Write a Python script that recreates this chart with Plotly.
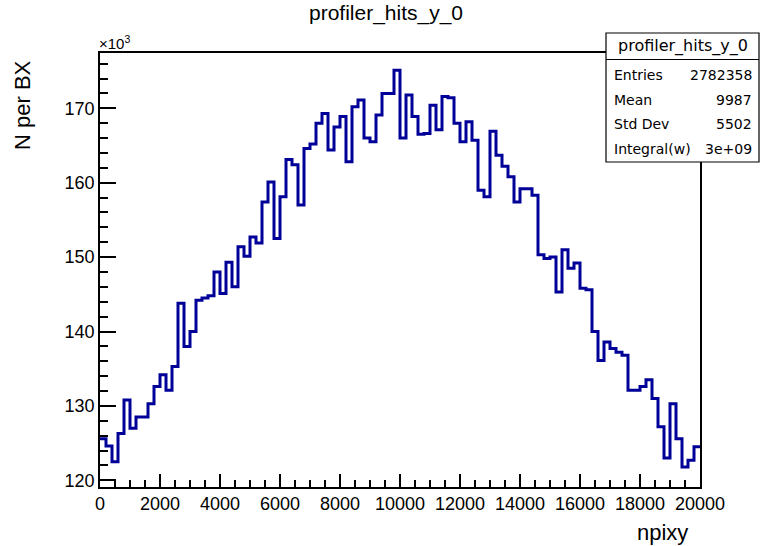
import plotly.graph_objects as go

# Histogram definition: 100 bins over npixy in [0, 20000]
n_bins = 100
x_min, x_max = 0, 20000

# Bin contents, N per BX in units of 10^3
counts_k = [
    125.6, 124.6, 122.5, 126.3, 130.8, 127.0, 128.5, 128.5, 130.3, 132.6,
    134.2, 132.1, 135.3, 143.8, 138.0, 140.0, 144.2, 144.5, 144.8, 148.0,
    145.1, 149.3, 146.0, 151.4, 150.1, 152.7, 151.9, 157.4, 160.1, 152.5,
    158.1, 163.1, 162.4, 157.0, 164.6, 165.2, 168.0, 169.3, 164.4, 167.5,
    168.9, 162.8, 170.2, 171.1, 166.0, 165.5, 169.1, 172.0, 172.0, 175.1,
    166.0, 171.8, 168.9, 166.5, 166.6, 170.4, 167.1, 171.6, 171.4, 168.0,
    165.5, 168.2, 165.7, 159.0, 158.1, 166.9, 163.7, 162.2, 160.8, 157.4,
    159.2, 159.2, 158.3, 150.3, 149.8, 150.0, 145.3, 151.0, 148.5, 149.2,
    145.8, 145.6, 140.0, 136.1, 138.6, 137.7, 137.2, 136.8, 132.1, 132.1,
    132.6, 133.5, 131.0, 127.2, 123.0, 130.3, 125.6, 121.8, 122.7, 124.5,
]

hist_name = "profiler_hits_y_0"
stats_labels = ["Entries", "Mean", "Std Dev", "Integral(w)"]
stats_values = ["2782358", "9987", "5502", "3e+09"]

# Step outline: left edge of each bin, plus the closing right edge
bin_w = (x_max - x_min) / n_bins
edges = [x_min + i * bin_w for i in range(n_bins + 1)]
step_x = edges
step_y = counts_k + [counts_k[-1]]

W, H = 761, 546
L, R, T, B = 100, 61, 53, 59
PW, PH = W - L - R, H - T - B


def px(xp):
    return (xp - L) / PW


def py(yp):
    return (H - B - yp) / PH


FONT = "Liberation Sans, Arial, Helvetica, sans-serif"
STATF = "DejaVu Sans, Liberation Sans, sans-serif"

fig = go.Figure()
fig.add_trace(go.Scatter(
    x=step_x, y=step_y, mode="lines",
    line=dict(color="#000099", width=3, shape="hv"),
    hoverinfo="skip", showlegend=False,
))

fig.update_layout(
    width=W, height=H,
    margin=dict(l=L, r=R, t=T, b=B),
    paper_bgcolor="white", plot_bgcolor="white",
    font=dict(family=FONT, color="black", size=18),
    title=dict(text=hist_name, x=386 / W, xref="container", xanchor="center",
               y=1 - 13 / H, yref="container", yanchor="middle",
               font=dict(size=21, family=FONT)),
    showlegend=False,
)

fig.update_xaxes(
    range=[x_min, x_max], showgrid=False, zeroline=False,
    showline=True, linecolor="black", linewidth=1.5, mirror=True,
    ticks="inside", ticklen=13, tickwidth=1.5, tickcolor="black",
    tick0=0, dtick=2000, tickformat="d",
    tickfont=dict(size=18, family=FONT),
    minor=dict(dtick=500, ticks="inside", ticklen=7, tickwidth=1.5, tickcolor="black"),
)
fig.update_yaxes(
    range=[119.1, 177.43], showgrid=False, zeroline=False,
    showline=True, linecolor="black", linewidth=1.5, mirror=True,
    ticks="inside", ticklen=16, tickwidth=1.5, tickcolor="black",
    tick0=120, dtick=10,
    tickfont=dict(size=18, family=FONT),
    minor=dict(dtick=2, ticks="inside", ticklen=8, tickwidth=1.5, tickcolor="black"),
)

ann = []
# axis titles and exponent
ann.append(dict(text="N per BX", x=px(22), y=py(105), textangle=-90,
                xanchor="center", yanchor="middle", showarrow=False,
                font=dict(size=22, family=FONT)))
ann.append(dict(text="npixy", x=px(690), y=py(532), xanchor="right",
                yanchor="middle", showarrow=False, font=dict(size=22, family=FONT)))
ann.append(dict(text="\u00d710<sup>3</sup>", x=px(97), y=py(42), xanchor="left",
                yanchor="middle", showarrow=False, font=dict(size=15, family=FONT)))

# statistics box
bx0, bx1, by0, by1, bsep = 606, 759, 33, 162, 59.5
shapes = [
    dict(type="rect", xref="paper", yref="paper", x0=px(bx0), x1=px(bx1),
         y0=py(by1), y1=py(by0), line=dict(color="black", width=1.2),
         fillcolor="white", layer="above"),
    dict(type="line", xref="paper", yref="paper", x0=px(bx0), x1=px(bx1),
         y0=py(bsep), y1=py(bsep), line=dict(color="black", width=1.2),
         layer="above"),
]
ann.append(dict(text=hist_name, x=px((bx0 + bx1) / 2), y=py(46), xanchor="center",
                yanchor="middle", showarrow=False, font=dict(size=16, family=STATF)))
row_y = [75, 100, 124.5, 149]
for lab, val, yy in zip(stats_labels, stats_values, row_y):
    ann.append(dict(text=lab, x=px(612), y=py(yy), xanchor="left", yanchor="middle",
                    showarrow=False, font=dict(size=14, family=STATF)))
    ann.append(dict(text=val, x=px(754), y=py(yy), xanchor="right", yanchor="middle",
                    showarrow=False, font=dict(size=14, family=STATF)))

for a in ann:
    a.setdefault("xref", "paper")
    a.setdefault("yref", "paper")
fig.update_layout(annotations=ann, shapes=shapes)

fig.write_html("out.html")
